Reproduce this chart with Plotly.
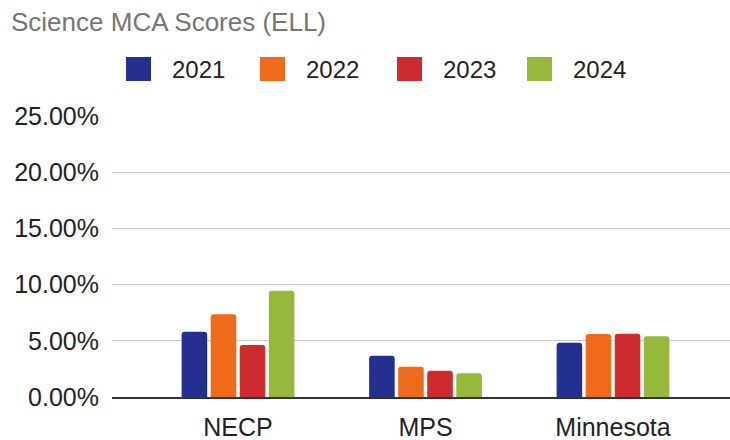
import plotly.graph_objects as go

# data
categories = ["NECP", "MPS", "Minnesota"]
years = ["2021", "2022", "2023", "2024"]
scores_2021 = [0.0581, 0.0367, 0.0483]
scores_2022 = [0.0736, 0.0270, 0.0560]
scores_2023 = [0.0463, 0.0234, 0.0562]
scores_2024 = [0.0946, 0.0211, 0.0540]
colors = ["#232F91", "#F06B19", "#CD2B2E", "#97B93B"]

series = [scores_2021, scores_2022, scores_2023, scores_2024]
font = "Liberation Sans, Arial, sans-serif"

W, H = 730, 440

fig = go.Figure()
for name, vals, col in zip(years, series, colors):
    fig.add_trace(go.Bar(x=categories, y=vals, name=name, marker_color=col,
                         marker_line_width=0, showlegend=False))

# hand-made legend with big swatches, like the original
legend_left = [126, 260, 397, 527]
for name, col, x0 in zip(years, colors, legend_left):
    fig.add_shape(type="rect", xref="paper", yref="paper",
                  x0=(x0 - 112) / 618, x1=(x0 + 25 - 112) / 618,
                  y0=(397 - 57) / 281, y1=(397 - 81) / 281,
                  fillcolor=col, line_width=0)
    fig.add_annotation(text=name, xref="paper", yref="paper",
                       x=(x0 + 44 - 112) / 618, y=(397 - 69) / 281,
                       xanchor="left", yanchor="middle", showarrow=False,
                       font=dict(family=font, size=24, color="#222222"))

fig.update_layout(
    width=W, height=H,
    margin=dict(l=112, r=0, t=116, b=H - 397, autoexpand=False),
    paper_bgcolor="white", plot_bgcolor="white",
    font=dict(family=font, size=25, color="#222222"),
    title=dict(text="Science MCA Scores (ELL)", xref="container", yref="container",
               x=11 / W, y=1 - 22 / H, xanchor="left", yanchor="middle",
               font=dict(family=font, size=26, color="#757575")),
    barmode="group", bargap=0.38, bargroupgap=0.12, barcornerradius=3,
)
fig.update_yaxes(range=[0, 0.25], dtick=0.05, tickformat=".2%",
                 showgrid=True, gridcolor="#CCCCCC", gridwidth=1,
                 zeroline=False, ticks="", ticklabelstandoff=12)
fig.update_xaxes(range=[-0.672, 2.624], showline=True, linecolor="#333333",
                 linewidth=1.5, ticks="", ticklabelstandoff=7)

# drop the default 8px page margin so the figure sits at the window corner
fig.write_html("out.html", config={"displayModeBar": False},
               post_script="document.body.style.margin='0';"
                           "document.body.style.overflow='hidden';")
